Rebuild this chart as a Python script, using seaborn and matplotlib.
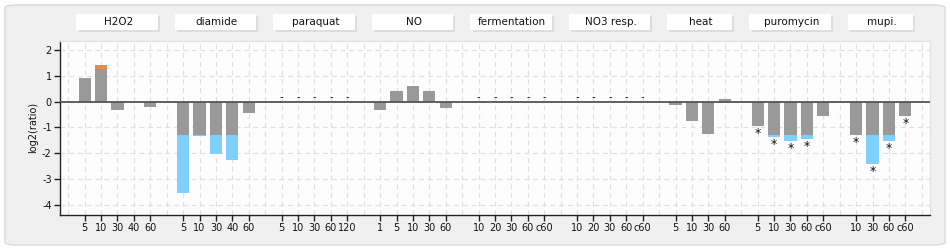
import numpy as np
import pandas as pd
import matplotlib
matplotlib.use("Agg")
import matplotlib.pyplot as plt
import matplotlib.transforms as mtransforms
from matplotlib.patches import FancyBboxPatch, Rectangle
import seaborn as sns

# ---------------- data ----------------
groups = ["H2O2", "diamide", "paraquat", "NO", "fermentation",
          "NO3 resp.", "heat", "puromycin", "mupi."]
group_times = [
    ["5", "10", "30", "40", "60"],
    ["5", "10", "30", "40", "60"],
    ["5", "10", "30", "60", "120"],
    ["1", "5", "10", "30", "60"],
    ["10", "20", "30", "60", "c60"],
    ["10", "20", "30", "60", "c60"],
    ["5", "10", "30", "60"],
    ["5", "10", "30", "60", "c60"],
    ["10", "30", "60", "c60"],
]
nan = np.nan
h2o2 = [0.93, 1.41, -0.32, 0.0, -0.22]
diamide = [-3.53, -1.33, -2.03, -2.26, -0.44]
paraquat = [nan, nan, nan, nan, nan]
no = [-0.33, 0.43, 0.61, 0.43, -0.23]
fermentation = [nan, nan, nan, nan, nan]
no3_resp = [nan, nan, nan, nan, nan]
heat = [-0.14, -0.74, -1.24, 0.10]
puromycin = [-0.93, -1.36, -1.53, -1.43, -0.54]
mupi = [-1.29, -2.43, -1.53, -0.54]
group_values = [h2o2, diamide, paraquat, no, fermentation, no3_resp, heat, puromycin, mupi]

puromycin_sig = [True, True, True, True, False]
mupi_sig = [True, True, True, True]
group_sig = [None] * 7 + [puromycin_sig, mupi_sig]

THRESH = 1.28  # beyond this |log2 ratio| the bar part is highlighted

# ---------------- build table ----------------
order, tick_pos, tick_lab = [], [], []
rows, missing, stars, spans = [], [], [], []
for gi, (g, times, vals) in enumerate(zip(groups, group_times, group_values)):
    if gi > 0:
        order.append(f"gap{gi}")
    start = len(order)
    sig = group_sig[gi]
    for ti, (t, v) in enumerate(zip(times, vals)):
        key = f"{g}|{t}"
        pos = len(order)
        order.append(key)
        tick_pos.append(pos)
        tick_lab.append(t)
        if np.isnan(v):
            missing.append(pos)
        else:
            rows.append(dict(key=key, value=v,
                             clipped=float(np.clip(v, -THRESH, THRESH)),
                             dir="up" if v > 0 else "down"))
            if sig is not None and sig[ti]:
                stars.append((pos, v))
    spans.append((g, start, len(order) - 1))
df = pd.DataFrame(rows)

# ---------------- style ----------------
plt.rcParams["axes.unicode_minus"] = False
plt.rcParams["font.family"] = ["DejaVu Sans"]

fig = plt.figure(figsize=(9.5, 2.5), dpi=100, facecolor="white")
frame = FancyBboxPatch((5 / 950, 5 / 250), 940 / 950, 240 / 250,
                       boxstyle="round,pad=0,rounding_size=0.012",
                       transform=fig.transFigure, facecolor="#f0f0f0",
                       edgecolor="#dadada", linewidth=1.0, zorder=-10)
fig.patches.append(frame)

ax = fig.add_axes([60 / 950, 35 / 250, 870 / 950, 174.3 / 250])
ax.set_facecolor("#fdfdfd")

# highlighted full bars
sns.barplot(data=df, x="key", y="value", hue="dir", order=order,
            hue_order=["up", "down"],
            palette={"up": "#f08a3c", "down": "#80d0ff"},
            dodge=False, width=0.74, saturation=1, errorbar=None,
            legend=False, ax=ax, zorder=3, linewidth=0)
# gray clipped part
sns.barplot(data=df, x="key", y="clipped", order=order, color="#999999",
            width=0.74, saturation=1, errorbar=None, ax=ax, zorder=4,
            linewidth=0)

ax.axhline(0, color="#555555", lw=1.3, zorder=5)

ax.set_xlim(-1.5, len(order) + 0.5)
ax.set_ylim(-4.39, 2.36)
ax.set_yticks([-4, -3, -2, -1, 0, 1, 2])
ax.set_xticks(tick_pos)
ax.set_xticklabels(tick_lab)
ax.set_xticks(np.arange(-1, len(order) + 1), minor=True)
ax.grid(False)
grid_kw = dict(color="#e0e0e0", lw=0.9, ls=(0, (4, 3)), zorder=0)
ax.grid(which="both", axis="x", **grid_kw)
ax.grid(which="major", axis="y", **grid_kw)
ax.set_axisbelow(True)
ax.tick_params(axis="x", which="minor", length=0)
ax.tick_params(axis="both", which="major", labelsize=7, length=4,
               width=1, color="#222222", labelcolor="#111111", pad=2)
ax.set_xlabel("")
ax.set_ylabel("log2(ratio)", fontsize=7, color="#111111", labelpad=3)

for s in ["left", "bottom"]:
    ax.spines[s].set_color("#222222")
    ax.spines[s].set_linewidth(1.0)
for s in ["top", "right"]:
    ax.spines[s].set_color("#e2e2e2")
    ax.spines[s].set_linewidth(1.0)

# missing-data dashes
for pos in missing:
    ax.text(pos, 0.17, "-", ha="center", va="center", fontsize=7,
            color="#111111", zorder=6)

# significance stars
for pos, v in stars:
    ax.text(pos, v - 0.04, "*", ha="center", va="top", fontsize=9,
            color="#111111", zorder=6)

# group header boxes
trans = mtransforms.blended_transform_factory(ax.transData, ax.transAxes)
for g, a, b in spans:
    x0, w = a - 0.5, (b - a + 1) - 0.05
    sh = Rectangle((x0 + 0.13, 1.049), w, 0.092, transform=trans,
                   facecolor="#dddddd", edgecolor="none", clip_on=False, zorder=1)
    bx = Rectangle((x0, 1.061), w, 0.092, transform=trans,
                   facecolor="white", edgecolor="none", clip_on=False, zorder=2)
    ax.add_patch(sh)
    ax.add_patch(bx)
    ax.text((a + b) / 2 + 0.05, 1.107, g, transform=trans, ha="center",
            va="center", fontsize=7.5, color="#111111", clip_on=False, zorder=3)

fig.savefig("out.png", dpi=100, facecolor=fig.get_facecolor())
